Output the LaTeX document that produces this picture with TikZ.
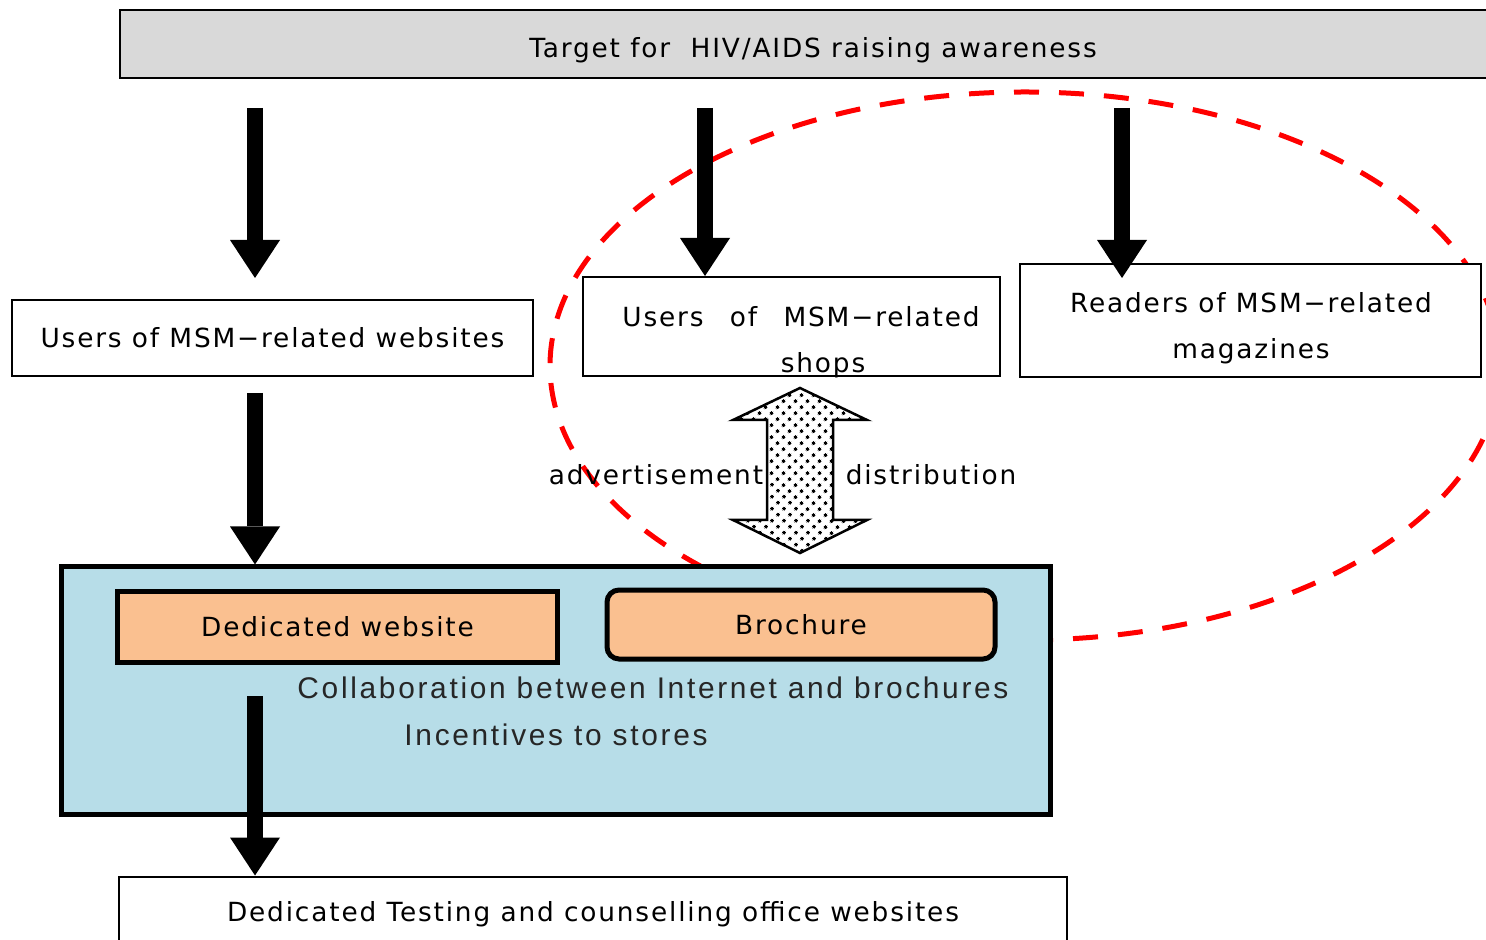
\documentclass[tikz,border=0pt]{standalone}
\usepackage{fontspec}
\setmainfont[LetterSpace=7]{DejaVu Sans}
\newfontfamily\collabfont[LetterSpace=9]{Liberation Sans}
\usetikzlibrary{arrows.meta,patterns.meta}
\definecolor{topgray}{HTML}{D9D9D9}
\definecolor{paleblue}{HTML}{B7DDE8}
\definecolor{peach}{HTML}{FAC090}
\definecolor{darktext}{HTML}{262626}
\tikzset{
	plainbox/.style={draw, line width=0.4mm, fill=white, inner sep=0pt, font=\fontsize{15}{26}\selectfont},
	peachbox/.style={draw, line width=1mm, fill=peach, inner sep=0pt, font=\fontsize{15}{26}\selectfont},
	bigarrow/.style={line width=3.2mm, -{Triangle[width=10mm,length=7.6mm,line width=0pt]}},
	reddash/.style={red, line width=1mm, dash pattern=on 5mm off 4mm},
	labeltext/.style={font=\fontsize{15}{26}\selectfont},
	collabtext/.style={font=\collabfont\fontsize{17}{26}\selectfont, text=darktext},
}

\begin{document}
\begin{tikzpicture}[x=0.2mm, y=-0.2mm]
		%%%%% START %%%%%
		\useasboundingbox (0,0) rectangle (1486,940);
		
		\draw[reddash] (1025,366) ellipse [x radius=95mm, y radius=54.8mm];
		
		\node[plainbox, fill=topgray, minimum width=277.2mm, minimum height=13.6mm] (target) at (813,44) {};
		\node[labeltext] (targettext) at (813,50) {Target for\ \ HIV/AIDS raising awareness};
		
		\node[plainbox, minimum width=104.2mm, minimum height=15.2mm] (websites) at (272.5,338) {Users of MSM−related websites};
		\node[plainbox, minimum width=83.4mm, minimum height=19.8mm] (shops) at (791.5,326.5) {};
		\node[labeltext, align=center] (shopstext) at (801,342) {Users\hspace{1em}of\hspace{1em}MSM−related\\\hspace*{8.8mm}shops};
		\node[plainbox, minimum width=92.2mm, minimum height=22.6mm] (readers) at (1250.5,320.5) {};
		\node[labeltext, align=center] (readerstext) at (1251,328.5) {Readers of MSM−related\\magazines};
		
		\node[draw, line width=1mm, fill=paleblue, minimum width=197.6mm, minimum height=49.4mm] (panel) at (556,690.5) {};
		\node[peachbox, minimum width=87.8mm, minimum height=14.2mm] (dedweb) at (337.5,626.5) {Dedicated website};
		\node[peachbox, rounded corners=2.4mm, minimum width=77.6mm, minimum height=13.8mm] (brochure) at (801,624.5) {Brochure};
		\node[collabtext] (collab) at (653,688) {Collaboration between Internet and brochures};
		\node[collabtext] (incent) at (556,735) {Incentives to stores};
		
		\node[plainbox, minimum width=189.6mm, minimum height=15mm] (testing) at (593,914) {Dedicated Testing and counselling office websites};
		
		% two-way arrow between shops and panel
		\draw[line width=0.5mm, preaction={fill=white}, pattern={Dots[angle=45, distance=1.8mm, radius=0.4mm]}]
			(800,388) -- (867,420) -- (833,420) -- (833,520) -- (867,520) -- (800,553)
			-- (733,520) -- (767,520) -- (767,420) -- (733,420) -- cycle;
		\node[labeltext] (advert) at (656,475) {advertisement};
		\node[labeltext] (distrib) at (931,475) {distribution};
		
		\coordinate (s1) at (255,108);
		\coordinate (e1) at (255,278);
		\coordinate (s2) at (705,108);
		\coordinate (s3) at (1122,108);
		\coordinate (e3) at (1122,278);
		\coordinate (s4) at (255,393);
		\coordinate (s5) at (255,696);
		
		\draw[bigarrow] (s1) -- (e1);
		\draw[bigarrow] (s2) -- (s2 |- shops.north);
		\draw[bigarrow] (s3) -- (e3);
		\draw[bigarrow] (s4) -- (s4 |- panel.north);
		\draw[bigarrow] (s5) -- (s5 |- testing.north);
		
		%%%%% END %%%%%
\end{tikzpicture}
\end{document}
